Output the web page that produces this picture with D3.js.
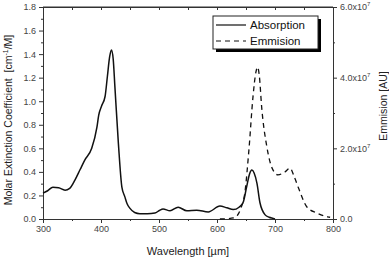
<!DOCTYPE html>
<html>
<head>
<meta charset="utf-8">
<script src="https://cdn.jsdelivr.net/npm/d3@7"></script>
<style>
  body { margin: 0; background: #fff; }
  svg { font-family: "Liberation Sans", Arial, sans-serif; }
  .tick text { fill: #444; font-size: 9px; }
  .axis path, .axis line { stroke: #333; }
</style>
</head>
<body>
<div id="chart"></div>
<script>
// absorption (wavelength nm, molar ext. coeff)
const absWl  = [300, 308, 317, 327, 338, 346, 355, 364, 372, 384, 393, 396, 401, 407, 411, 415, 418, 421, 424, 430, 436, 441, 445, 450, 458, 467, 480, 493, 500, 507, 519, 533, 548, 565, 585, 605, 617, 628, 638, 645, 651, 656, 660, 664, 669, 674, 683, 690, 697, 700];
const absVal = [0.22, 0.24, 0.27, 0.265, 0.245, 0.26, 0.33, 0.42, 0.50, 0.60, 0.78, 0.88, 0.96, 1.04, 1.21, 1.38, 1.435, 1.36, 1.12, 0.64, 0.27, 0.19, 0.13, 0.09, 0.055, 0.045, 0.045, 0.05, 0.07, 0.085, 0.07, 0.10, 0.07, 0.075, 0.06, 0.11, 0.095, 0.08, 0.10, 0.14, 0.27, 0.38, 0.415, 0.39, 0.30, 0.14, 0.035, 0.015, 0.005, 0];

// emission (wavelength nm, AU)
const emWl  = [605, 618, 628, 635, 641, 648, 655, 662, 667, 670, 673, 677, 686, 695, 705, 717, 726, 733, 740, 755, 772, 791, 795];
const emVal = [0, 0.01e7, 0.03e7, 0.1e7, 0.3e7, 0.74e7, 1.95e7, 3.45e7, 4.15e7, 4.3e7, 4.05e7, 3.17e7, 2.04e7, 1.44e7, 1.25e7, 1.33e7, 1.44e7, 1.2e7, 0.9e7, 0.34e7, 0.17e7, 0.06e7, 0.05e7];

const xTicks = [300, 400, 500, 600, 700, 800];
const yTicks = [0, 0.2, 0.4, 0.6, 0.8, 1.0, 1.2, 1.4, 1.6, 1.8];
const y2Ticks = [0, 2e7, 4e7, 6e7];
const legendLabels = ["Absorption", "Emmision"];

const W = 389, H = 258;
const margin = { TOP: 7, BOTTOM: 39, LEFT: 43, RIGHT: 56 };
const w = W - margin.LEFT - margin.RIGHT;
const h = H - margin.TOP - margin.BOTTOM;

const svg = d3.select("#chart").append("svg")
  .attr("width", W).attr("height", H)
  .append("g")
  .attr("transform", `translate(${margin.LEFT}, ${margin.TOP})`);

const x = d3.scaleLinear().domain([300, 800]).range([0, w]);
const y = d3.scaleLinear().domain([0, 1.8]).range([h, 0]);
const y2 = d3.scaleLinear().domain([0, 6e7]).range([h, 0]);

// minor ticks
svg.append("g").attr("class", "axis").attr("transform", `translate(0, ${h})`)
  .call(d3.axisBottom(x).tickValues(d3.range(350, 800, 100)).tickFormat("").tickSize(2).tickSizeOuter(0));
svg.append("g").attr("class", "axis")
  .call(d3.axisLeft(y).tickValues(d3.range(0.1, 1.8, 0.2)).tickFormat("").tickSize(2).tickSizeOuter(0));
svg.append("g").attr("class", "axis").attr("transform", `translate(${w}, 0)`)
  .call(d3.axisRight(y2).tickValues([1e7, 3e7, 5e7]).tickFormat("").tickSize(2).tickSizeOuter(0));
svg.append("g").attr("class", "axis")
  .call(d3.axisBottom(x).tickValues(d3.range(300, 801, 50)).tickFormat("").tickSize(3).tickSizeOuter(0));

// main axes
svg.append("g").attr("class", "axis").attr("transform", `translate(0, ${h})`)
  .call(d3.axisBottom(x).tickValues(xTicks).tickSize(4).tickSizeOuter(0).tickPadding(3));
svg.append("g").attr("class", "axis")
  .call(d3.axisLeft(y).tickValues(yTicks).tickFormat(d3.format(".1f")).tickSize(4).tickSizeOuter(0).tickPadding(3));

const right = svg.append("g").attr("class", "axis").attr("transform", `translate(${w}, 0)`)
  .call(d3.axisRight(y2).tickValues(y2Ticks).tickSize(4).tickSizeOuter(0).tickPadding(3));
right.selectAll(".tick text").each(function(d) {
  const t = d3.select(this).text("");
  if (d === 0) { t.text("0.0"); return; }
  t.append("tspan").text((d / 1e7).toFixed(1) + "x10");
  t.append("tspan").attr("dy", -4).style("font-size", "6px").text("7");
});

// top frame line
svg.append("line").attr("x1", 0).attr("x2", w).attr("y1", 0).attr("y2", 0)
  .style("stroke", "#333");

// lines
const line = d3.line().curve(d3.curveMonotoneX);
svg.append("path")
  .attr("d", line(absWl.map((d, i) => [x(d), y(absVal[i])])))
  .style("fill", "none").style("stroke", "#111").style("stroke-width", 1.5);
svg.append("path")
  .attr("d", line(emWl.map((d, i) => [x(d), y2(emVal[i])])))
  .style("fill", "none").style("stroke", "#111").style("stroke-width", 1.3)
  .style("stroke-dasharray", "5,4");

// axis titles
svg.append("text")
  .attr("x", w / 2).attr("y", 248 - margin.TOP + 7)
  .attr("text-anchor", "middle").style("font-size", "11px").style("fill", "#222")
  .text("Wavelength [\u00b5m]");

const yl = svg.append("text")
  .attr("transform", `translate(${8 - margin.LEFT + 4}, ${120 - margin.TOP}) rotate(-90)`)
  .attr("text-anchor", "middle").style("font-size", "10.5px").style("fill", "#222");
yl.append("tspan").text("Molar Extinction Coefficient\u00a0 [cm");
yl.append("tspan").attr("dy", -4).style("font-size", "7px").text("-1");
yl.append("tspan").attr("dy", 4).text("/M]");

svg.append("text")
  .attr("transform", `translate(${383 - margin.LEFT + 4}, ${106 - margin.TOP}) rotate(-90)`)
  .attr("text-anchor", "middle").style("font-size", "10.5px").style("fill", "#222")
  .text("Emmision [AU]");

// legend
const lg = svg.append("g").attr("transform", `translate(${213 - margin.LEFT}, ${16 - margin.TOP})`);
lg.append("rect").attr("x", 3).attr("y", 3).attr("width", 105).attr("height", 33).style("fill", "#000");
lg.append("rect").attr("width", 105).attr("height", 33).style("fill", "#fff").style("stroke", "#222");
legendLabels.forEach((lab, i) => {
  const yy = 9 + i * 16;
  lg.append("line").attr("x1", 3).attr("x2", 33).attr("y1", yy).attr("y2", yy)
    .style("stroke", "#111").style("stroke-width", 1.2)
    .style("stroke-dasharray", i === 1 ? "5,4" : null);
  lg.append("text").attr("x", 37).attr("y", yy + 4).style("font-size", "11.5px").style("fill", "#111").text(lab);
});
</script>
</body>
</html>
